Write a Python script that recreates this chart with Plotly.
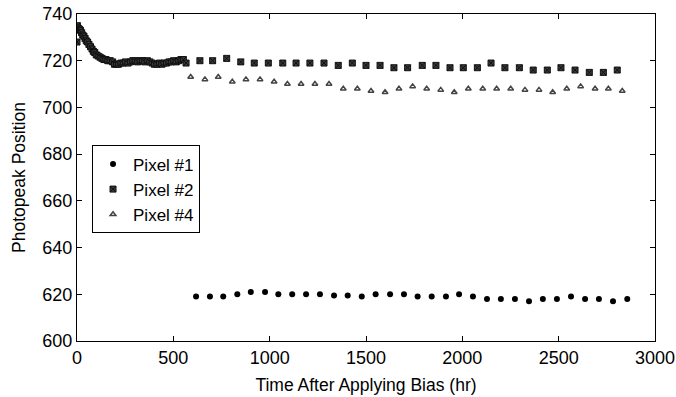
import plotly.graph_objects as go

# Pixel #1 (hours, photopeak position)
p1_t = [618, 690, 759, 832, 902, 976, 1045, 1117, 1189, 1261, 1334, 1405, 1478, 1550,
        1625, 1697, 1768, 1841, 1915, 1983, 2055, 2128, 2200, 2273, 2346, 2418, 2491,
        2564, 2637, 2709, 2782, 2856]
p1_v = [619, 619, 619, 620, 621, 621, 620, 620, 620, 620, 619.5, 619.5, 619, 620,
        620, 620, 619, 619, 619, 620, 619, 618, 618, 618, 617, 618, 618,
        619, 618, 618, 617, 618]

# Pixel #2: dense early readings then ~3-day readings
p2_t = [0, 2, 6, 12, 18, 24, 30, 36, 42, 48, 55, 62, 70, 78, 85, 92, 100, 110, 120,
        130, 140, 150, 160, 172, 185, 195, 205, 215, 228, 240, 252, 265, 278, 290,
        302, 315, 328, 340, 352, 365, 378, 390, 402, 415, 428, 440, 452, 465, 478,
        490, 502, 515, 528, 540, 552,
        566, 638, 704, 777, 850, 920, 993, 1068, 1137, 1209, 1282, 1356, 1429, 1500,
        1573, 1645, 1716, 1792, 1863, 1936, 2005, 2078, 2149, 2221, 2296, 2368, 2441,
        2512, 2585, 2659, 2732, 2804]
p2_v = [728, 735, 734, 733.5, 733, 732, 731, 730.5, 729.5, 728.5, 728, 727, 726, 725,
        724, 723.5, 722.5, 722, 721.5, 721, 720.5, 720.5, 720, 720, 719.5, 718.5, 718.5,
        718.5, 719, 719, 719.5, 719, 719.5, 720, 720, 719.5, 720, 720, 719.5, 720, 719.5,
        719, 718.5, 718.5, 719, 718.5, 719, 719, 719.5, 719.5, 720, 719.5, 720, 720.5,
        720.5,
        719, 720, 720, 721, 719.5, 719, 719, 719, 719, 719, 719, 718, 719, 718,
        718, 717, 717, 718, 718, 717, 717, 717, 719, 717, 717, 716, 716,
        717, 716, 715, 715, 716]

# Pixel #4
p4_t = [590, 664, 733, 806, 877, 950, 1023, 1092, 1163, 1235, 1308, 1382, 1455, 1526,
        1599, 1671, 1742, 1815, 1888, 1958, 2031, 2106, 2178, 2251, 2325, 2398, 2469,
        2542, 2614, 2689, 2758, 2830]
p4_v = [713, 712, 713, 711, 712, 712, 711, 710, 710, 710, 710, 708, 708, 707,
        706.5, 708, 709, 708, 707.5, 706.5, 708, 708, 708, 708, 707.5, 707.5, 706.5,
        708, 709, 708, 708, 707]

x_ticks = [0, 500, 1000, 1500, 2000, 2500, 3000]
y_ticks = [600, 620, 640, 660, 680, 700, 720, 740]

FONT = "Liberation Sans, Arial, sans-serif"

fig = go.Figure()
fig.add_trace(go.Scatter(
    x=p1_t, y=p1_v, mode="markers", name="Pixel #1",
    marker=dict(symbol="circle", size=6, color="black")))
fig.add_trace(go.Scatter(
    x=p2_t, y=p2_v, mode="markers", name="Pixel #2",
    marker=dict(symbol="square-x", size=6, color="#3a3a3a",
                line=dict(color="#111111", width=1))))
fig.add_trace(go.Scatter(
    x=p4_t, y=p4_v, mode="markers", name="Pixel #4",
    marker=dict(symbol="triangle-up-open", size=5, color="#444444",
                line=dict(color="#444444", width=1.5))))

axis_common = dict(
    showline=True, linecolor="black", linewidth=1, mirror="ticks",
    ticks="inside", ticklen=5, tickcolor="black", tickwidth=1,
    showgrid=False, zeroline=False, automargin=False,
    tickfont=dict(family=FONT, size=18, color="black"),
)

fig.update_layout(
    width=676, height=397,
    margin=dict(l=77, r=21, t=14, b=56),
    paper_bgcolor="white", plot_bgcolor="white",
    font=dict(family=FONT, color="black"),
    xaxis=dict(range=[0, 3000], tickvals=x_ticks,
               title=dict(text="Time After Applying Bias (hr)",
                          font=dict(family=FONT, size=17.5), standoff=12),
               **axis_common),
    yaxis=dict(range=[600, 740], tickvals=y_ticks,
               title=dict(text="Photopeak Position",
                          font=dict(family=FONT, size=17.5), standoff=12),
               **axis_common),
    legend=dict(x=0.026, y=0.598, xanchor="left", yanchor="top",
                bordercolor="black", borderwidth=1, bgcolor="white",
                font=dict(family=FONT, size=17, color="black"),
                itemsizing="trace", tracegroupgap=0, itemwidth=30),
    showlegend=True,
)

fig.write_html("out.html")
